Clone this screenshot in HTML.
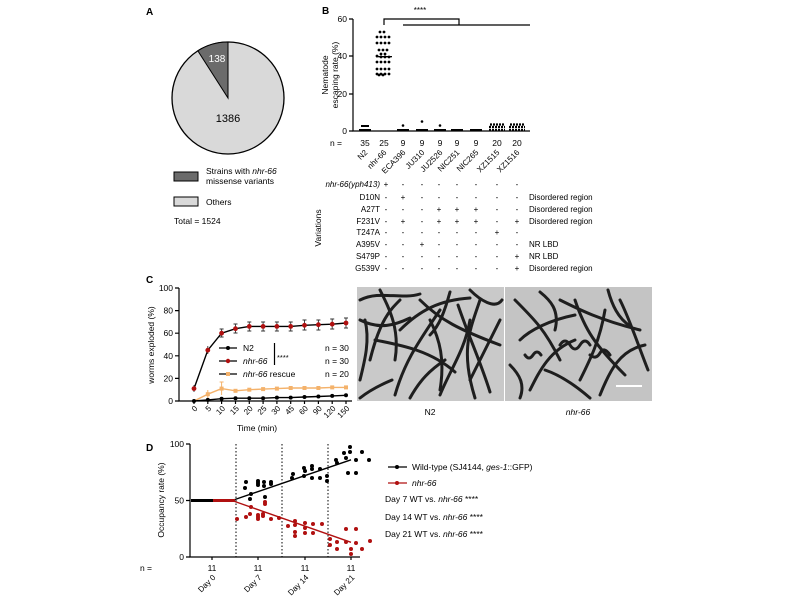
<!DOCTYPE html>
<html><head><meta charset="utf-8"><style>
html,body{margin:0;padding:0;background:#fff;}
svg{display:block;font-family:"Liberation Sans",Arial,sans-serif;}
text{fill:#000;}
</style></head><body>
<svg width="800" height="600" viewBox="0 0 800 600" xmlns="http://www.w3.org/2000/svg">
<!-- Panel A -->
<text x="146" y="15" font-size="10" font-weight="bold">A</text>
<circle cx="228" cy="98" r="56" fill="#d9d9d9" stroke="#000" stroke-width="1.3"/>
<path d="M228,98 L228,42 A56,56 0 0,0 197.8,50.8 Z" fill="#6b6b6b" stroke="#000" stroke-width="1"/>
<text x="217" y="62" font-size="10" text-anchor="middle" style="fill:#fff">138</text>
<text x="228" y="122" font-size="11" text-anchor="middle">1386</text>
<rect x="174" y="172" width="24" height="9" fill="#6b6b6b" stroke="#000" stroke-width="1"/>
<text x="206" y="174" font-size="8.5">Strains with <tspan font-style="italic">nhr-66</tspan></text>
<text x="206" y="184" font-size="8.5">missense variants</text>
<rect x="174" y="197" width="24" height="9" fill="#d9d9d9" stroke="#000" stroke-width="1"/>
<text x="206" y="205" font-size="8.5">Others</text>
<text x="174" y="224" font-size="8.5">Total = 1524</text>

<!-- Panel B -->
<text x="322" y="14" font-size="10" font-weight="bold">B</text>
<g stroke="#000" stroke-width="1.2" fill="none">
<path d="M353,19 V131 H530"/>
<path d="M349,19 H353 M349,56 H353 M349,94 H353 M349,131 H353"/>
<path d="M384,25 V19 H459 V25 M403,25 H530"/>
</g>
<text x="420" y="13" font-size="8" text-anchor="middle">****</text>
<g font-size="8.5" text-anchor="end">
<text x="347" y="22">60</text><text x="347" y="59">40</text><text x="347" y="97">20</text><text x="347" y="134">0</text>
</g>
<text transform="translate(328,75) rotate(-90)" font-size="8.5" text-anchor="middle">Nematode</text>
<text transform="translate(338,75) rotate(-90)" font-size="8.5" text-anchor="middle">escaping rate (%)</text>
<g font-size="8.5" text-anchor="middle">
<text x="336" y="146">n =</text>
<text x="365" y="146">35</text><text x="384" y="146">25</text><text x="403" y="146">9</text><text x="422" y="146">9</text><text x="440" y="146">9</text><text x="457" y="146">9</text><text x="476" y="146">9</text><text x="497" y="146">20</text><text x="517" y="146">20</text>
</g>
<g font-size="8" text-anchor="end">
<text transform="translate(368,153) rotate(-45)">N2</text>
<text transform="translate(387,153) rotate(-45)">nhr-66</text>
<text transform="translate(406,153) rotate(-45)">ECA396</text>
<text transform="translate(425,153) rotate(-45)">JU310</text>
<text transform="translate(443,153) rotate(-45)">JU2526</text>
<text transform="translate(460,153) rotate(-45)">NIC251</text>
<text transform="translate(479,153) rotate(-45)">NIC265</text>
<text transform="translate(500,153) rotate(-45)">XZ1515</text>
<text transform="translate(520,153) rotate(-45)">XZ1516</text>
</g>
<!-- B scatter -->
<g fill="#000">
<rect x="359" y="129" width="12" height="2"/><rect x="361" y="125" width="8" height="2"/>
<rect x="397" y="129" width="12" height="2"/><circle cx="403" cy="125.5" r="1.3"/>
<rect x="416" y="129" width="12" height="2"/><circle cx="422" cy="121.5" r="1.3"/>
<rect x="434" y="129" width="12" height="2"/><circle cx="440" cy="125.5" r="1.3"/>
<rect x="451" y="129" width="12" height="2"/><rect x="470" y="129" width="12" height="2"/>
<rect x="376" y="56" width="16" height="1.3"/>
</g>
<g stroke="#000" stroke-width="2.2" stroke-dasharray="2,1">
<path d="M489,130H505 M489,127H505 M490,124.5H504 M509,130H525 M509,127H525 M510,124.5H524"/>
</g>
<g fill="#000">
<circle cx="380" cy="32" r="1.4"/><circle cx="384" cy="32" r="1.4"/>
<circle cx="377" cy="37" r="1.4"/><circle cx="381" cy="37" r="1.4"/><circle cx="385" cy="37" r="1.4"/><circle cx="389" cy="37" r="1.4"/>
<circle cx="377" cy="43" r="1.4"/><circle cx="381" cy="43" r="1.4"/><circle cx="385" cy="43" r="1.4"/><circle cx="389" cy="43" r="1.4"/>
<circle cx="379" cy="50" r="1.4"/><circle cx="383" cy="50" r="1.4"/><circle cx="387" cy="50" r="1.4"/>
<circle cx="381" cy="54" r="1.4"/><circle cx="385" cy="54" r="1.4"/>
<circle cx="377" cy="56" r="1.4"/><circle cx="381" cy="57" r="1.4"/><circle cx="385" cy="57" r="1.4"/><circle cx="389" cy="57" r="1.4"/>
<circle cx="377" cy="62" r="1.4"/><circle cx="381" cy="62" r="1.4"/><circle cx="385" cy="62" r="1.4"/><circle cx="389" cy="62" r="1.4"/>
<circle cx="377" cy="69" r="1.4"/><circle cx="381" cy="69" r="1.4"/><circle cx="385" cy="69" r="1.4"/><circle cx="389" cy="69" r="1.4"/>
<circle cx="377" cy="74" r="1.4"/><circle cx="381" cy="74" r="1.4"/><circle cx="385" cy="74" r="1.4"/><circle cx="389" cy="74" r="1.4"/>
<circle cx="379" cy="75" r="1.4"/><circle cx="383" cy="75" r="1.4"/>
</g>
<!-- B table -->
<g font-size="8" text-anchor="end">
<text x="380" y="187" font-style="italic">nhr-66(yph413)</text>
<text x="380" y="200">D10N</text><text x="380" y="212">A27T</text><text x="380" y="224">F231V</text>
<text x="380" y="235">T247A</text><text x="380" y="247">A395V</text><text x="380" y="259">S479P</text><text x="380" y="271">G539V</text>
</g>
<text transform="translate(321,228) rotate(-90)" font-size="8.5" text-anchor="middle">Variations</text>
<g font-size="8" text-anchor="middle">
<text y="187"><tspan x="386">+</tspan><tspan x="403">-</tspan><tspan x="422">-</tspan><tspan x="439">-</tspan><tspan x="457">-</tspan><tspan x="476">-</tspan><tspan x="497">-</tspan><tspan x="517">-</tspan></text>
<text y="200"><tspan x="386">-</tspan><tspan x="403">+</tspan><tspan x="422">-</tspan><tspan x="439">-</tspan><tspan x="457">-</tspan><tspan x="476">-</tspan><tspan x="497">-</tspan><tspan x="517">-</tspan></text>
<text y="212"><tspan x="386">-</tspan><tspan x="403">-</tspan><tspan x="422">-</tspan><tspan x="439">+</tspan><tspan x="457">+</tspan><tspan x="476">+</tspan><tspan x="497">-</tspan><tspan x="517">-</tspan></text>
<text y="224"><tspan x="386">-</tspan><tspan x="403">+</tspan><tspan x="422">-</tspan><tspan x="439">+</tspan><tspan x="457">+</tspan><tspan x="476">+</tspan><tspan x="497">-</tspan><tspan x="517">+</tspan></text>
<text y="235"><tspan x="386">-</tspan><tspan x="403">-</tspan><tspan x="422">-</tspan><tspan x="439">-</tspan><tspan x="457">-</tspan><tspan x="476">-</tspan><tspan x="497">+</tspan><tspan x="517">-</tspan></text>
<text y="247"><tspan x="386">-</tspan><tspan x="403">-</tspan><tspan x="422">+</tspan><tspan x="439">-</tspan><tspan x="457">-</tspan><tspan x="476">-</tspan><tspan x="497">-</tspan><tspan x="517">-</tspan></text>
<text y="259"><tspan x="386">-</tspan><tspan x="403">-</tspan><tspan x="422">-</tspan><tspan x="439">-</tspan><tspan x="457">-</tspan><tspan x="476">-</tspan><tspan x="497">-</tspan><tspan x="517">+</tspan></text>
<text y="271"><tspan x="386">-</tspan><tspan x="403">-</tspan><tspan x="422">-</tspan><tspan x="439">-</tspan><tspan x="457">-</tspan><tspan x="476">-</tspan><tspan x="497">-</tspan><tspan x="517">+</tspan></text>
</g>
<g font-size="8">
<text x="529" y="200">Disordered region</text><text x="529" y="212">Disordered region</text><text x="529" y="224">Disordered region</text>
<text x="529" y="247">NR LBD</text><text x="529" y="259">NR LBD</text><text x="529" y="271">Disordered region</text>
</g>

<!-- Panel C -->
<text x="146" y="283" font-size="10" font-weight="bold">C</text>
<g stroke="#000" stroke-width="1.2" fill="none">
<path d="M179,288 V401 H352"/>
<path d="M175,288 H179 M175,310.6 H179 M175,333.2 H179 M175,355.8 H179 M175,378.4 H179 M175,401 H179"/>
<path d="M194,401v3 M207.8,401v3 M221.6,401v3 M235.5,401v3 M249.3,401v3 M263.1,401v3 M276.9,401v3 M290.7,401v3 M304.5,401v3 M318.4,401v3 M332.2,401v3 M346,401v3"/>
</g>
<g font-size="8.5" text-anchor="end">
<text x="173" y="291">100</text><text x="173" y="313.6">80</text><text x="173" y="336.2">60</text><text x="173" y="358.8">40</text><text x="173" y="381.4">20</text><text x="173" y="404">0</text>
</g>
<text transform="translate(154,345) rotate(-90)" font-size="8.5" text-anchor="middle">worms exploded (%)</text>
<g font-size="8" text-anchor="end">
<text transform="translate(198,409) rotate(-45)">0</text><text transform="translate(211.8,409) rotate(-45)">5</text><text transform="translate(225.6,409) rotate(-45)">10</text><text transform="translate(239.5,409) rotate(-45)">15</text><text transform="translate(253.3,409) rotate(-45)">20</text><text transform="translate(267.1,409) rotate(-45)">25</text><text transform="translate(280.9,409) rotate(-45)">30</text><text transform="translate(294.7,409) rotate(-45)">45</text><text transform="translate(308.5,409) rotate(-45)">60</text><text transform="translate(322.4,409) rotate(-45)">90</text><text transform="translate(336.2,409) rotate(-45)">120</text><text transform="translate(350,409) rotate(-45)">150</text>
</g>
<text x="257" y="431" font-size="8.5" text-anchor="middle">Time (min)</text>
<polyline fill="none" stroke="#f4b26b" stroke-width="1.4" points="194,401 207.8,394.2 221.6,388.6 235.5,390.8 249.3,389.7 263.1,389.1 276.9,388.6 290.7,388 304.5,388 318.4,388 332.2,387.4 346,387.4"/>
<g fill="#f4b26b"><rect x="205.8" y="392.2" width="4" height="4"/><rect x="219.6" y="386.6" width="4" height="4"/><rect x="233.5" y="388.8" width="4" height="4"/><rect x="247.3" y="387.7" width="4" height="4"/><rect x="261.1" y="387.1" width="4" height="4"/><rect x="274.9" y="386.6" width="4" height="4"/><rect x="288.7" y="386" width="4" height="4"/><rect x="302.5" y="386" width="4" height="4"/><rect x="316.4" y="386" width="4" height="4"/><rect x="330.2" y="385.4" width="4" height="4"/><rect x="344" y="385.4" width="4" height="4"/></g>
<path d="M221.6,382v13 M219.6,382h4 M207.8,390v8" stroke="#f4b26b" stroke-width="1"/>
<polyline fill="none" stroke="#000" stroke-width="1.4" points="194,401 207.8,399.9 221.6,398.7 235.5,398.2 249.3,398.2 263.1,398.2 276.9,397.6 290.7,397.6 304.5,397 318.4,396.5 332.2,395.9 346,395.3"/>
<g fill="#000"><circle cx="194" cy="401" r="2"/><circle cx="207.8" cy="399.9" r="2"/><circle cx="221.6" cy="398.7" r="2"/><circle cx="235.5" cy="398.2" r="2"/><circle cx="249.3" cy="398.2" r="2"/><circle cx="263.1" cy="398.2" r="2"/><circle cx="276.9" cy="397.6" r="2"/><circle cx="290.7" cy="397.6" r="2"/><circle cx="304.5" cy="397" r="2"/><circle cx="318.4" cy="396.5" r="2"/><circle cx="332.2" cy="395.9" r="2"/><circle cx="346" cy="395.3" r="2"/></g>
<polyline fill="none" stroke="#000" stroke-width="1.4" points="194,388.6 207.8,350.2 221.6,333.2 235.5,328.7 249.3,326.4 263.1,326.4 276.9,326.4 290.7,326.4 304.5,325.3 318.4,324.7 332.2,324.2 346,323"/>
<g stroke="#333" stroke-width="0.9" fill="none"><path d="M207.8,346v8 M221.6,329v8 M235.5,324v9 M249.3,322v9 M263.1,322v9 M276.9,322v9 M290.7,322v9 M304.5,320v10 M318.4,320v10 M332.2,319v10 M346,318v10 M194,385v7"/>
<path d="M233.5,324h4 M233.5,333h4 M247.3,322h4 M247.3,331h4 M261.1,322h4 M261.1,331h4 M274.9,322h4 M274.9,331h4 M288.7,322h4 M288.7,331h4 M302.5,320h4 M302.5,330h4 M316.4,320h4 M316.4,330h4 M330.2,319h4 M330.2,329h4 M344,318h4 M344,328h4 M219.6,329h4 M219.6,337h4"/></g>
<g fill="#b01010"><circle cx="194" cy="388.6" r="2.4"/><circle cx="207.8" cy="350.2" r="2.4"/><circle cx="221.6" cy="333.2" r="2.4"/><circle cx="235.5" cy="328.7" r="2.4"/><circle cx="249.3" cy="326.4" r="2.4"/><circle cx="263.1" cy="326.4" r="2.4"/><circle cx="276.9" cy="326.4" r="2.4"/><circle cx="290.7" cy="326.4" r="2.4"/><circle cx="304.5" cy="325.3" r="2.4"/><circle cx="318.4" cy="324.7" r="2.4"/><circle cx="332.2" cy="324.2" r="2.4"/><circle cx="346" cy="323" r="2.4"/></g>
<rect x="216" y="342" width="138" height="38" fill="#fff"/>
<path d="M219,348H237" stroke="#000" stroke-width="1.3"/><circle cx="228" cy="348" r="2" fill="#000"/>
<path d="M219,361H237" stroke="#000" stroke-width="1.3"/><circle cx="228" cy="361" r="2.2" fill="#b01010"/>
<path d="M219,374H237" stroke="#000" stroke-width="1.3"/><rect x="226" y="372" width="4" height="4" fill="#f4b26b"/>
<g font-size="8.5">
<text x="243" y="351">N2</text><text x="243" y="364" font-style="italic">nhr-66</text><text x="243" y="377"><tspan font-style="italic">nhr-66</tspan> rescue</text>
<text x="325" y="351">n = 30</text><text x="325" y="364">n = 30</text><text x="325" y="377">n = 20</text>
<text x="277" y="360" font-size="7.5">****</text>
</g>
<path d="M274.5,343V365" stroke="#000" stroke-width="1.2"/>

<!-- Photos -->
<rect x="357" y="287" width="147" height="114" fill="#c9c9c9"/>
<rect x="505" y="287" width="147" height="114" fill="#c4c4c4"/>
<g fill="none" stroke="#1e1e1e" stroke-width="3" stroke-linecap="round">
<path d="M360,300 C380,290 400,300 420,294"/><path d="M370,360 C380,320 390,310 400,300"/><path d="M395,395 C405,360 420,340 440,310"/>
<path d="M420,300 C440,320 460,330 500,345"/><path d="M440,395 C450,370 465,350 470,320"/><path d="M375,340 C400,345 430,350 455,372"/>
<path d="M400,330 C420,310 440,300 470,298"/><path d="M458,305 C470,340 480,360 490,392"/><path d="M360,380 C365,360 370,340 365,320"/>
<path d="M410,398 C420,380 430,370 445,360"/><path d="M470,380 C480,360 490,340 500,320"/><path d="M430,320 C440,340 445,360 440,390"/>
<path d="M380,290 C390,310 400,330 395,360"/><path d="M470,290 C480,300 495,310 502,300"/><path d="M360,320 C380,330 395,325 410,318"/>
<path d="M450,292 C445,310 440,325 430,335"/><path d="M480,300 C470,330 460,350 475,398"/><path d="M360,398 C370,390 380,385 392,380"/>
<path d="M515,300 C535,320 545,330 560,360"/><path d="M530,390 C540,370 550,350 575,340"/><path d="M560,300 C580,310 600,320 640,330"/>
<path d="M600,395 C610,370 620,350 645,345"/><path d="M520,340 C530,330 550,320 575,315"/><path d="M580,380 C590,360 600,340 605,310"/>
<path d="M620,300 C630,320 640,350 648,370"/><path d="M545,370 C560,375 575,385 590,398"/><path d="M510,365 C520,375 525,385 520,398"/>
<path d="M575,300 C585,330 595,345 625,375"/><path d="M540,292 C550,300 560,310 555,330"/><path d="M608,290 C612,305 618,318 630,326"/>
<path d="M560,345 q5,-8 10,0 t10,0 t10,0"/><path d="M525,355 q4,6 8,0 t8,0"/><path d="M590,355 q6,5 10,-2 t10,2"/>
</g>
<rect x="616" y="385" width="26" height="2" fill="#fff"/>
<text x="430" y="415" font-size="8.5" text-anchor="middle">N2</text>
<text x="578" y="415" font-size="8.5" text-anchor="middle" font-style="italic">nhr-66</text>

<!-- Panel D -->
<text x="146" y="451" font-size="10" font-weight="bold">D</text>
<g stroke="#000" stroke-width="1.2" fill="none">
<path d="M190,444 V557 H360"/>
<path d="M186,444 H190 M186,500.5 H190 M186,557 H190"/>
<path d="M212,557v3 M258,557v3 M305,557v3 M351,557v3"/>
</g>
<g stroke="#000" stroke-width="1" stroke-dasharray="1.5,2"><path d="M236,444V557 M282,444V557 M328,444V557"/></g>
<g font-size="8.5" text-anchor="end"><text x="184" y="447">100</text><text x="184" y="503.5">50</text><text x="184" y="560">0</text></g>
<text transform="translate(164,500) rotate(-90)" font-size="8.5" text-anchor="middle">Occupancy rate (%)</text>
<g font-size="8.5" text-anchor="middle"><text x="146" y="571">n =</text><text x="212" y="571">11</text><text x="258" y="571">11</text><text x="305" y="571">11</text><text x="351" y="571">11</text></g>
<g font-size="8" text-anchor="end">
<text transform="translate(216,578) rotate(-45)">Day 0</text><text transform="translate(262,578) rotate(-45)">Day 7</text><text transform="translate(309,578) rotate(-45)">Day 14</text><text transform="translate(355,578) rotate(-45)">Day 21</text>
</g>
<path d="M232,500.5 L351,459.8" stroke="#000" stroke-width="1.4"/>
<path d="M232,500.5 L351,542.3" stroke="#b01010" stroke-width="1.4"/>
<g fill="#000">
<rect x="191" y="499" width="44" height="3"/>
<circle cx="245" cy="488" r="2"/><circle cx="246" cy="482" r="2"/><circle cx="251" cy="494" r="2"/><circle cx="250" cy="499" r="2"/><circle cx="258" cy="481" r="2"/><circle cx="258" cy="483" r="2"/><circle cx="258" cy="485" r="2"/><circle cx="264" cy="482" r="2"/><circle cx="264" cy="486" r="2"/><circle cx="265" cy="497" r="2"/><circle cx="271" cy="482" r="2"/><circle cx="271" cy="484" r="2"/>
<circle cx="292" cy="478" r="2"/><circle cx="293" cy="474" r="2"/><circle cx="304" cy="468" r="2"/><circle cx="305" cy="471" r="2"/><circle cx="304" cy="476" r="2"/><circle cx="312" cy="466" r="2"/><circle cx="312" cy="469" r="2"/><circle cx="312" cy="478" r="2"/><circle cx="320" cy="469" r="2"/><circle cx="320" cy="478" r="2"/><circle cx="327" cy="476" r="2"/><circle cx="327" cy="481" r="2"/>
<circle cx="336" cy="460" r="2"/><circle cx="337" cy="463" r="2"/><circle cx="344" cy="453" r="2"/><circle cx="346" cy="458" r="2"/><circle cx="350" cy="447" r="2"/><circle cx="350" cy="452" r="2"/><circle cx="348" cy="473" r="2"/><circle cx="356" cy="460" r="2"/><circle cx="356" cy="473" r="2"/><circle cx="362" cy="452" r="2"/><circle cx="369" cy="460" r="2"/>
</g>
<g fill="#b01010">
<rect x="213" y="499" width="22" height="3"/>
<circle cx="237" cy="519" r="2"/><circle cx="246" cy="517" r="2"/><circle cx="251" cy="507" r="2"/><circle cx="250" cy="514" r="2"/><circle cx="258" cy="515" r="2"/><circle cx="258" cy="517" r="2"/><circle cx="258" cy="519" r="2"/><circle cx="263" cy="514" r="2"/><circle cx="263" cy="516" r="2"/><circle cx="265" cy="502" r="2"/><circle cx="265" cy="504" r="2"/><circle cx="271" cy="519" r="2"/><circle cx="279" cy="518" r="2"/>
<circle cx="288" cy="526" r="2"/><circle cx="295" cy="521" r="2"/><circle cx="295" cy="525" r="2"/><circle cx="295" cy="532" r="2"/><circle cx="295" cy="536" r="2"/><circle cx="305" cy="523" r="2"/><circle cx="305" cy="528" r="2"/><circle cx="305" cy="533" r="2"/><circle cx="313" cy="524" r="2"/><circle cx="313" cy="533" r="2"/><circle cx="322" cy="524" r="2"/>
<circle cx="330" cy="539" r="2"/><circle cx="330" cy="545" r="2"/><circle cx="337" cy="549" r="2"/><circle cx="337" cy="542" r="2"/><circle cx="346" cy="529" r="2"/><circle cx="346" cy="542" r="2"/><circle cx="351" cy="549" r="2"/><circle cx="351" cy="554" r="2"/><circle cx="356" cy="529" r="2"/><circle cx="356" cy="543" r="2"/><circle cx="362" cy="549" r="2"/><circle cx="370" cy="541" r="2"/>
</g>
<path d="M388,467H407" stroke="#000" stroke-width="1.3"/><circle cx="397" cy="467" r="2" fill="#000"/>
<path d="M388,483H407" stroke="#b01010" stroke-width="1.3"/><circle cx="397" cy="483" r="2" fill="#b01010"/>
<g font-size="8.5">
<text x="412" y="470">Wild-type (SJ4144, <tspan font-style="italic">ges-1</tspan>::GFP)</text>
<text x="412" y="486" font-style="italic">nhr-66</text>
<text x="385" y="502">Day 7 WT vs. <tspan font-style="italic">nhr-66</tspan> ****</text>
<text x="385" y="520">Day 14 WT vs. <tspan font-style="italic">nhr-66</tspan> ****</text>
<text x="385" y="537">Day 21 WT vs. <tspan font-style="italic">nhr-66</tspan> ****</text>
</g>
</svg>
</body></html>
